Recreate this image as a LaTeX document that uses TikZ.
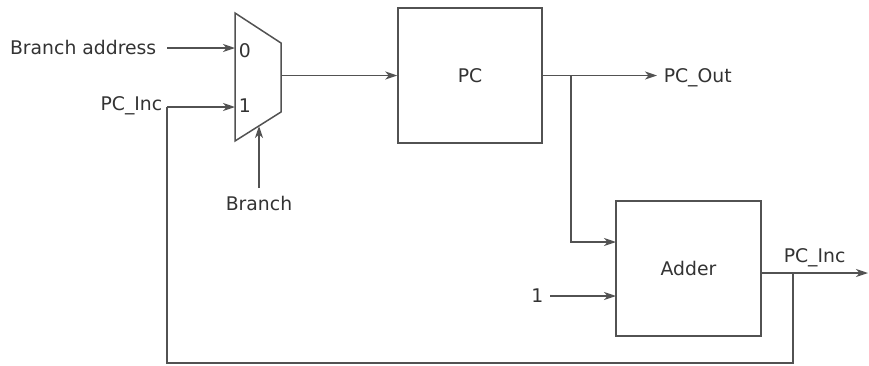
\documentclass[tikz,border=0pt]{standalone}
\usepackage{fontspec}
\setmainfont{DejaVu Sans}
\usetikzlibrary{arrows.meta,positioning}

\tikzset{
  block/.style={draw, minimum width=144pt, minimum height=135pt, inner sep=0pt},
  lbl/.style={inner sep=0pt},
  wire/.style={draw=black!68}
}

\begin{document}
\begin{tikzpicture}[x=1pt, y=-1pt, >={Stealth[length=12pt,width=8pt,inset=3.5pt]},
    line width=1.5pt, text=black!80, font=\fontsize{18.8}{22}\selectfont]
  \useasboundingbox (0,0) rectangle (869,365);
  % multiplexer
  \draw[wire] (235,13) -- (281,43) -- (281,112) -- (235,141) -- cycle;
  \coordinate (m0) at (235,48);
  \coordinate (m1) at (235,107);
  \coordinate (msel) at (259,126);
  \coordinate (mout) at (281,75.5);
  \node[lbl, anchor=base west] (zero) at (238,57) {0};
  \node[lbl, anchor=base west] (one) at (238,112) {1};
  % blocks
  \node[block, wire] (pc) at (470,75.5) {PC};
  \node[block, wire, minimum width=145pt] (adder) at (688.5,268.5) {Adder};
  % labels
  \node[lbl, anchor=base east] (baddr) at (157,54) {Branch address};
  \node[lbl, anchor=base east] (pcinc) at (163,110) {PC\_Inc};
  \node[lbl, anchor=base] (branch) at (259,210) {Branch};
  \node[lbl, anchor=base west] (pcout) at (663,82) {PC\_Out};
  \node[lbl, anchor=base west] (inc) at (783,262) {PC\_Inc};
  \node[lbl, anchor=base east] (const) at (544,302) {1};
  % connectors
  \coordinate (s0) at (167,48);
  \coordinate (s1) at (167,107);
  \coordinate (sb) at (259,188);
  \coordinate (pcend) at (657,75.5);
  \coordinate (j1) at (571,75.5);
  \coordinate (a1) at (616,242);
  \coordinate (a2) at (616,296);
  \coordinate (c1) at (550,296);
  \coordinate (j2) at (793,273);
  \coordinate (aout) at (761,273);
  \coordinate (outend) at (868,273);
  \coordinate (bot) at (793,363);
  \draw[wire, ->] (s0) -- (m0);
  \draw[wire, ->] (s1) -- (m1);
  \draw[wire, ->] (sb) -- (msel);
  \draw[wire, ->] (mout) -- (pc.west);
  \draw[wire, ->] (pc.east) -- (pcend);
  \draw[wire, ->] (j1) |- (a1);
  \draw[wire, ->] (c1) -- (a2);
  \draw[wire, ->] (aout) -- (outend);
  \draw[wire] (j2) -- (bot) -| (s1);
\end{tikzpicture}
\end{document}
